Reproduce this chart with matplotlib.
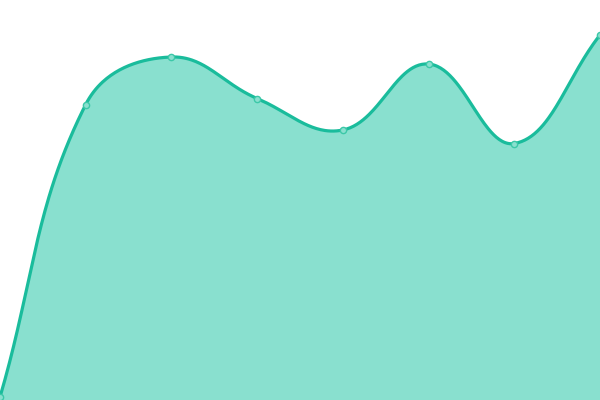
import numpy as np
import matplotlib
matplotlib.use("Agg")
import matplotlib.pyplot as plt

labels = ["A", "B", "C", "D", "E", "F", "G", "H"]
values = [3, 295.5, 343, 301.5, 270, 336, 256.5, 365]

W, H = 600, 400
fig = plt.figure(figsize=(6, 4), dpi=100)
ax = fig.add_axes([0, 0, 1, 1])
ax.set_xlim(0, len(values) - 1)
ax.set_ylim(0, 400)
ax.axis("off")

xs = np.arange(len(values), dtype=float)
ys = np.array(values, dtype=float)
# pixel space for Chart.js-like spline
px = xs * W / (len(values) - 1)
py = ys * H / 400.0
t = 0.4
n = len(px)
cpl = []
cpr = []
for i in range(n):
    p0 = (px[max(i - 1, 0)], py[max(i - 1, 0)])
    p1 = (px[i], py[i])
    p2 = (px[min(i + 1, n - 1)], py[min(i + 1, n - 1)])
    d01 = np.hypot(p1[0] - p0[0], p1[1] - p0[1])
    d12 = np.hypot(p2[0] - p1[0], p2[1] - p1[1])
    s = d01 + d12
    fa = t * d01 / s if s else 0
    fb = t * d12 / s if s else 0
    cpl.append((p1[0] - fa * (p2[0] - p0[0]), p1[1] - fa * (p2[1] - p0[1])))
    cpr.append((p1[0] + fb * (p2[0] - p0[0]), p1[1] + fb * (p2[1] - p0[1])))

cx, cy = [], []
tt = np.linspace(0, 1, 60)
for i in range(n - 1):
    P0 = np.array([px[i], py[i]])
    P1 = np.array(cpr[i])
    P2 = np.array(cpl[i + 1])
    P3 = np.array([px[i + 1], py[i + 1]])
    for u in tt[:-1] if i < n - 2 else tt:
        b = ((1 - u) ** 3) * P0 + 3 * ((1 - u) ** 2) * u * P1 + 3 * (1 - u) * u ** 2 * P2 + u ** 3 * P3
        cx.append(b[0])
        cy.append(b[1])
cx = np.array(cx) * (len(values) - 1) / W
cy = np.array(cy) * 400.0 / H

ax.fill_between(cx, cy, 0, color="#89e0cf", linewidth=0)
ax.plot(cx, cy, color="#1abc9c", linewidth=2.3, solid_capstyle="round")
ax.plot(xs, ys, linestyle="none", marker="o", markersize=4.5,
        markerfacecolor="#8ae0cf", markeredgecolor="#3cc8a8", markeredgewidth=1)

fig.savefig("out.png", dpi=100)
